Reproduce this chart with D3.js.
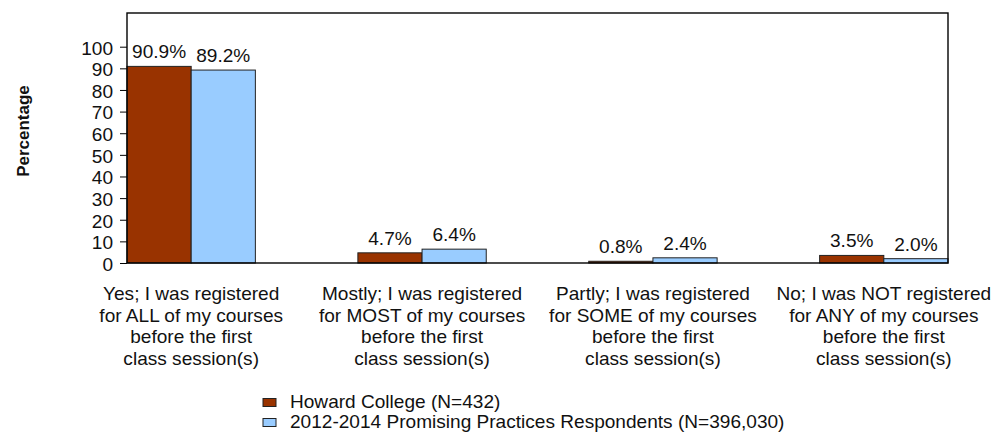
<!doctype html>
<html lang="en">
<head>
  <meta charset="utf-8">
  <script src="https://cdnjs.cloudflare.com/ajax/libs/d3/7.8.5/d3.min.js"></script>
  <style>
    html, body{width:100%; height:100%; margin:0px; padding:0px; background:#fff;}
    svg text{font-family:Arial, "Liberation Sans", sans-serif; fill:#111;}
  </style>
</head>
<body>
<div id="view"></div>
<script>
// chart data
var categories = [
  ["Yes; I was registered", "for ALL of my courses", "before the first", "class session(s)"],
  ["Mostly; I was registered", "for MOST of my courses", "before the first", "class session(s)"],
  ["Partly; I was registered", "for SOME of my courses", "before the first", "class session(s)"],
  ["No; I was NOT registered", "for ANY of my courses", "before the first", "class session(s)"]
];
var seriesNames = ["Howard College (N=432)", "2012-2014 Promising Practices Respondents (N=396,030)"];
var howard = [90.9, 4.7, 0.8, 3.5];
var promising = [89.2, 6.4, 2.4, 2.0];
var yTicks = [0, 10, 20, 30, 40, 50, 60, 70, 80, 90, 100];
var colors = ["#993300", "#99ccff"];

var W = 994, H = 432;
var plotL = 127, plotR = 948, plotT = 13, plotB = 263;
var fs = 17.5, sx = 1.09; // text is a little stretched sideways in the original

var svg = d3.select('#view').append('svg').attr('width', W).attr('height', H);

var x = d3.scaleBand().domain(d3.range(categories.length))
    .range([plotL, plotR]).paddingInner(0.444).paddingOuter(0);
var x1 = d3.scaleBand().domain([0, 1]).range([0, x.bandwidth()]);
var y = d3.scaleLinear().domain([0, 100]).range([plotB, 46.7]);

// helper for stretched text
function label(g, tx, ty, str, anchor, size, weight) {
  return g.append('text')
    .attr('transform', 'translate(' + tx + ',' + ty + ') scale(' + sx + ',1)')
    .attr('text-anchor', anchor)
    .style('font-size', (size || fs) + 'px')
    .style('font-weight', weight || 'normal')
    .text(str);
}

// y axis
var yAxis = svg.append('g').attr('transform', 'translate(' + plotL + ',0)')
  .call(d3.axisLeft(y).tickValues(yTicks).tickSize(7).tickFormat(function(){return '';}));
yAxis.select('.domain').remove();
yAxis.selectAll('.tick line').attr('stroke', '#000');
yTicks.forEach(function(t){
  label(svg, 113, y(t) + 1.5 + fs * 0.36, t, 'end');
});

// bars
var series = [howard, promising];
series.forEach(function(vals, s){
  svg.append('g').selectAll('rect').data(vals).enter().append('rect')
    .attr('x', function(d, i){return x(i) + x1(s);})
    .attr('y', function(d){return y(d);})
    .attr('width', x1.bandwidth())
    .attr('height', function(d){return plotB - y(d);})
    .attr('fill', colors[s])
    .attr('stroke', '#222').attr('stroke-width', 1);
  vals.forEach(function(d, i){
    label(svg, x(i) + x1(s) + x1.bandwidth() / 2, y(d) - 8, d.toFixed(1) + '%', 'middle');
  });
});

// frame
svg.append('rect').attr('x', plotL).attr('y', plotT)
  .attr('width', plotR - plotL).attr('height', plotB - plotT)
  .attr('fill', 'none').attr('stroke', '#000').attr('stroke-width', 1.4);

// category labels
categories.forEach(function(lines, i){
  var cx = x(i) + x.bandwidth() / 2;
  lines.forEach(function(ln, k){
    label(svg, cx, 300 + k * 21.5, ln, 'middle');
  });
});

// y title
svg.append('text')
  .attr('transform', 'translate(29,131) rotate(-90)')
  .attr('text-anchor', 'middle')
  .style('font-size', '17px').style('font-weight', 'bold')
  .text('Percentage');

// legend
seriesNames.forEach(function(n, s){
  svg.append('rect').attr('x', 263).attr('y', 398.5 + s * 20)
    .attr('width', 13).attr('height', 8)
    .attr('fill', colors[s]).attr('stroke', '#222').attr('stroke-width', 1);
  label(svg, 290, 407.5 + s * 20, n, 'start');
});
</script>
</body>
</html>
